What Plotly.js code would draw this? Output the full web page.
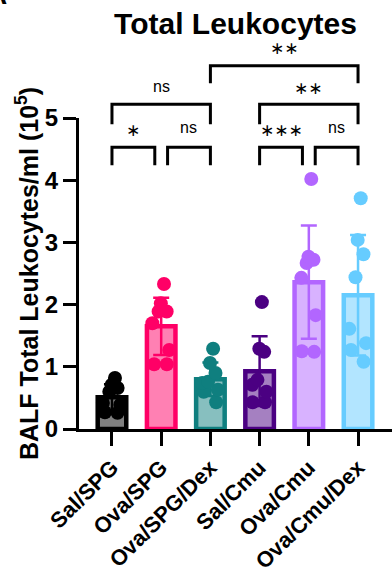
<!DOCTYPE html>
<html><head><meta charset="utf-8">
<script src="https://cdn.plot.ly/plotly-3.0.1.min.js"></script>
<style>html,body{margin:0;padding:0;background:#fff;} #chart{width:392px;height:577px;}</style>
</head><body><div id="chart"></div>
<script>
// ---- data ----
const categories = ['Sal/SPG','Ova/SPG','Ova/SPG/Dex','Sal/Cmu','Ova/Cmu','Ova/Cmu/Dex'];
const salSPG    = [0.82,0.71,0.66,0.60,0.42,0.39,0.27,0.26];
const ovaSPG    = [2.33,2.02,1.89,1.89,1.70,1.27,1.04,1.04];
const ovaSPGDex = [1.29,1.06,0.90,0.76,0.74,0.63,0.60,0.43];
const salCmu    = [2.04,1.29,1.24,0.79,0.71,0.60,0.43,0.43];
const ovaCmu    = [4.02,2.77,2.72,2.67,2.43,1.83,1.25,1.24];
const ovaCmuDex = [3.71,3.04,2.81,2.44,1.61,1.38,1.27,1.08];
const means = [0.51,1.65,0.80,0.93,2.36,2.15];
const sds   = [0.21,0.46,0.27,0.56,0.91,0.97];
const yTicks = [0,1,2,3,4,5];
const sigLabels = ['∗','ns','∗∗∗','ns','ns','∗∗','∗∗'];

// ---- styles ----
const lineColors = ['#000000','#FF0066','#0F7F7F','#4B0082','#B266FF','#66CCFF'];
const fillColors = ['#808080','#FF80B3','#87BFBF','#A580C1','#D8B2FF','#B2E5FF'];
const groups = [salSPG, ovaSPG, ovaSPGDex, salCmu, ovaCmu, ovaCmuDex];
const FONT = 'Liberation Sans, Arial, Helvetica, sans-serif';

const traces = [];
categories.forEach((c, i) => {
  traces.push({
    type: 'bar', x: [c], y: [means[i]], width: 0.58,
    marker: {color: fillColors[i], line: {color: lineColors[i], width: 4.5}},
    error_y: {type: 'data', array: [sds[i]], visible: true, color: lineColors[i], thickness: 2.5, width: 8},
    hoverinfo: 'skip', showlegend: false
  });
});
categories.forEach((c, i) => {
  traces.push({
    type: 'box', x0: c, y: groups[i], width: 0.5,
    boxpoints: 'all', jitter: 0.9, pointpos: 0,
    fillcolor: 'rgba(0,0,0,0)', line: {color: 'rgba(0,0,0,0)', width: 0},
    marker: {color: lineColors[i], size: 14, opacity: 1},
    hoverinfo: 'skip', showlegend: false
  });
});

// significance brackets (x in category index, y in data units -> paper)
const YMAX = 5;
const brackets = [
  [0, 0.87, 4.53, 4.24, 4.80, 0],
  [1.13, 2, 4.53, 4.24, 4.84, 1],
  [3, 3.87, 4.53, 4.24, 4.80, 2],
  [4.13, 5, 4.53, 4.24, 4.84, 3],
  [0, 2, 5.22, 4.90, 5.50, 4],
  [3, 5, 5.22, 4.90, 5.49, 5],
  [2, 5, 5.84, 5.56, 6.12, 6]
];
const shapes = [];
const annotations = [];
brackets.forEach(b => {
  const [x0, x1, yt, yl, ylab, li] = b;
  shapes.push({
    type: 'path', xref: 'x', yref: 'paper',
    path: `M ${x0} ${yl/YMAX} L ${x0} ${yt/YMAX} L ${x1} ${yt/YMAX} L ${x1} ${yl/YMAX}`,
    line: {color: '#000', width: 3}
  });
  const lab = sigLabels[li];
  const isStar = lab !== 'ns';
  annotations.push({
    xref: 'x', yref: 'paper', x: (x0 + x1) / 2, y: ylab / YMAX,
    text: lab, showarrow: false, xanchor: 'center', yanchor: 'middle',
    font: {family: isStar ? 'DejaVu Sans, ' + FONT : FONT, size: isStar ? 17 : 16, color: '#000'}
  });
});
annotations.push({
  xref: 'paper', yref: 'paper', x: (9 - 79) / 313, y: (429 - 12) / 311,
  xanchor: 'right', yanchor: 'bottom', text: 'A', showarrow: false,
  font: {family: FONT, size: 28, weight: 700, color: '#000'}
});

const layout = {
  width: 392, height: 577,
  margin: {l: 79, r: 0, t: 118, b: 148, pad: 0},
  paper_bgcolor: '#fff', plot_bgcolor: '#fff',
  barmode: 'overlay', boxmode: 'overlay',
  showlegend: false,
  title: {
    text: 'Total Leukocytes', font: {family: FONT, size: 30, weight: 700, color: '#000'},
    xref: 'paper', x: 0.5, xanchor: 'center', yref: 'container', y: 1 - 23 / 577, yanchor: 'middle'
  },
  xaxis: {
    type: 'category', categoryorder: 'array', categoryarray: categories,
    range: [-0.67, 5.69], showgrid: false, zeroline: false,
    showline: true, linecolor: '#000', linewidth: 3,
    ticks: 'outside', ticklen: 14, tickwidth: 3, tickcolor: '#000',
    tickangle: -45, tickfont: {family: FONT, size: 22, weight: 700, color: '#000'},
    fixedrange: true
  },
  yaxis: {
    range: [0, YMAX], tickvals: yTicks, ticktext: yTicks.map(String),
    showgrid: false, zeroline: false,
    showline: true, linecolor: '#000', linewidth: 3,
    ticks: 'outside', ticklen: 13, tickwidth: 3, tickcolor: '#000',
    tickfont: {family: FONT, size: 24, weight: 700, color: '#000'},
    title: {text: 'BALF Total Leukocytes/ml (10<sup>5</sup>)', standoff: 0,
            font: {family: FONT, size: 25, weight: 700, color: '#000'}},
    fixedrange: true
  },
  shapes: shapes,
  annotations: annotations
};

Plotly.newPlot('chart', traces, layout, {displayModeBar: false, staticPlot: true});
</script>
</body></html>
